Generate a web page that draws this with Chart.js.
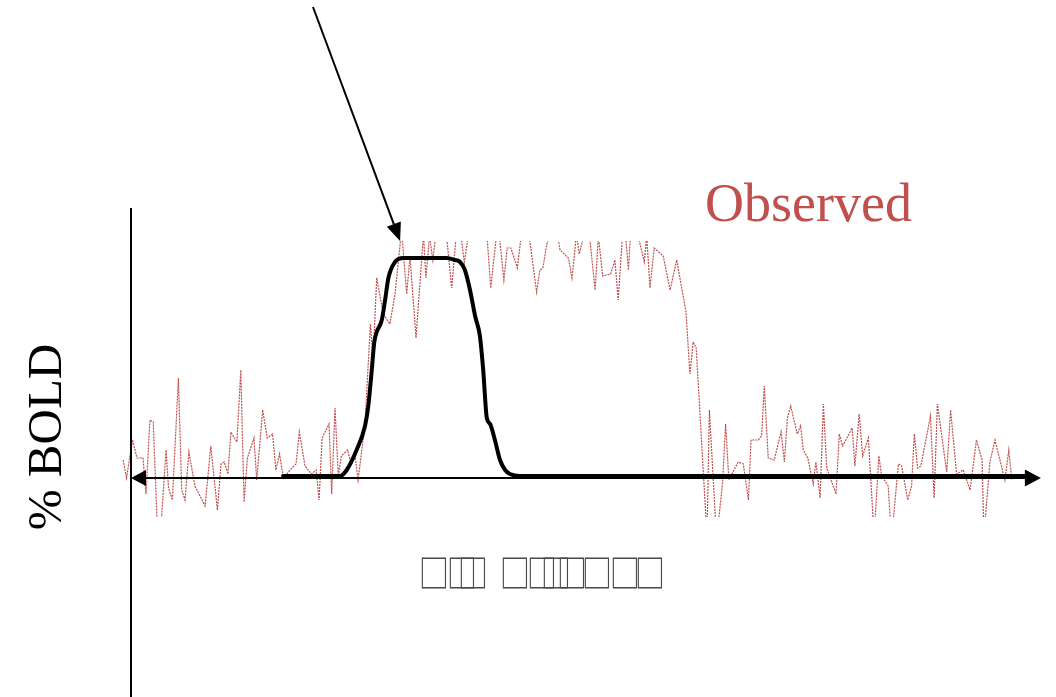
<!DOCTYPE html>
<html>
<head>
<meta charset="utf-8">
<script src="https://cdn.jsdelivr.net/npm/chart.js@4.4.1/dist/chart.umd.min.js"></script>
<style>
  html, body { margin: 0; padding: 0; background: #fff; }
  canvas { display: block; }
</style>
</head>
<body>
<canvas id="bold" width="1056" height="697"></canvas>
<script>
  "use strict";

  // observed signal (red, noisy): time (s) and % BOLD
  var observedTime = [
    -2.6, -1.5, 0.5, 2.0, 4.0, 5.0, 6.3, 7.4, 9.2, 11.7,
    12.5, 13.8, 15.8, 16.9, 18.0, 19.3, 21.3, 24.7, 26.6, 28.8,
    30.0, 31.1, 32.3, 33.3, 35.3, 36.6, 37.7, 38.8, 41.0, 41.9,
    43.9, 45.4, 47.2, 48.3, 49.5, 50.8, 53.6, 55.0, 56.1, 58.0,
    60.2, 61.7, 62.7, 63.7, 66.0, 66.9, 68.0, 69.1, 70.1, 72.2,
    73.3, 74.7, 75.7, 78.0, 79.8, 80.7, 81.9, 84.1, 86.3, 88.0,
    90.2, 91.9, 93.0, 95.0, 97.5, 98.3, 99.5, 100.6, 101.8, 104.0,
    106.9, 109.0, 111.1, 112.7, 115.7, 118.3, 119.9, 122.3, 124.3, 125.4,
    126.6, 128.8, 131.3, 135.2, 136.3, 137.3, 138.5, 141.0, 143.0, 145.8,
    147.0, 148.5, 149.4, 152.3, 154.7, 155.8, 157.2, 159.9, 161.3, 162.4,
    164.3, 165.8, 167.0, 171.1, 171.9, 173.0, 174.4, 177.4, 179.7, 181.9,
    185.0, 186.3, 187.4, 188.4, 192.0, 192.8, 195.2, 197.2, 198.2, 199.3,
    202.4, 204.1, 205.8, 206.7, 209.1, 210.2, 211.1, 212.4, 214.4, 216.7,
    217.8, 218.8, 219.9, 222.1, 223.2, 224.1, 225.6, 227.4, 228.3, 229.7,
    230.8, 231.9, 235.0, 236.1, 237.2, 240.4, 241.3, 242.7, 243.9, 245.8,
    247.7, 249.3, 250.2, 252.4, 253.5, 255.8, 256.9, 258.9, 260.2, 261.1,
    262.2, 263.3, 266.5, 267.7, 268.8, 271.9, 273.2, 275.2, 277.4, 279.7,
    281.8, 283.7, 284.3, 286.3, 288.0, 291.3, 292.6, 293.6
  ];
  var observedPct = [
    0.09, 0.00, 0.19, 0.10, 0.10, -0.08, 0.29, 0.28, -0.41, 0.14,
    -0.05, -0.11, 0.50, -0.06, -0.11, 0.13, -0.04, -0.14, 0.16, -0.16,
    0.07, 0.08, 0.02, 0.23, 0.18, 0.54, -0.12, 0.10, 0.20, -0.01,
    0.34, 0.20, 0.22, 0.04, 0.12, 0.00, 0.05, 0.07, 0.23, 0.06,
    0.02, 0.04, -0.11, 0.20, 0.27, -0.08, 0.35, 0.01, 0.11, 0.14,
    0.07, 0.11, -0.01, 0.27, 0.77, 0.60, 1.00, 0.82, 0.77, 0.92,
    1.24, 0.92, 1.11, 0.70, 1.22, 1.00, 1.21, 1.09, 1.24, 1.39,
    0.95, 1.32, 1.08, 1.24, 1.37, 1.29, 0.95, 1.28, 0.99, 1.15,
    1.15, 1.05, 1.37, 0.93, 1.04, 1.05, 1.16, 1.32, 1.14, 1.10,
    1.00, 1.22, 1.12, 1.29, 0.94, 1.21, 1.01, 1.02, 1.09, 0.89,
    1.32, 1.04, 1.34, 1.08, 1.21, 0.95, 1.15, 1.11, 0.94, 1.09,
    0.83, 0.52, 0.68, 0.65, -0.29, 0.34, -0.31, -0.02, 0.27, -0.01,
    0.08, 0.07, -0.11, 0.19, 0.19, 0.21, 0.46, 0.10, 0.09, 0.23,
    0.08, 0.30, 0.36, 0.22, 0.26, 0.14, 0.10, -0.03, 0.08, -0.10,
    0.37, 0.05, -0.08, 0.22, 0.16, 0.25, 0.06, 0.32, 0.11, 0.20,
    -0.29, 0.11, 0.01, -0.04, -0.31, 0.07, 0.06, -0.11, -0.04, 0.22,
    0.05, 0.06, 0.31, -0.10, 0.37, 0.03, 0.34, 0.02, 0.04, -0.06,
    0.19, 0.09, -0.29, 0.08, 0.19, -0.01, 0.14, -0.01
  ];

  // predicted response (black, smooth)
  var modelTime = [
    50.7, 69.7, 71.9, 75.2, 78.0, 79.1, 80.2, 81.1, 81.9, 83.6,
    84.7, 85.8, 88.0, 90.8, 105.2, 108.0, 109.7, 111.3, 113.0, 114.7,
    116.3, 117.4, 118.6, 119.7, 121.3, 123.0, 124.7, 126.3, 129.7, 299.7
  ];
  var modelPct = [
    0.01, 0.01, 0.04, 0.14, 0.26, 0.36, 0.53, 0.68, 0.73, 0.79,
    0.89, 1.00, 1.08, 1.10, 1.10, 1.09, 1.08, 1.04, 0.94, 0.81,
    0.71, 0.54, 0.30, 0.27, 0.19, 0.09, 0.04, 0.02, 0.01, 0.01
  ];

  var yLabel = "% BOLD";
  var seriesLabel = "Observed";
  // x label as it shows: missing-glyph boxes
  var xLabelGlyphs = ["□", "□", "□", "□", "□", "□", "□", "□", "□", "□"];
  var xLabelLeft = [421, 449, 460, 502, 529, 543, 559, 584, 612, 637];

  var toPoints = function(xs, ys) {
    var pts = [];
    for (var i = 0; i < xs.length; i++) pts.push({ x: xs[i], y: ys[i] });
    return pts;
  };

  var head = function(ctx, tx, ty, ang, len, half) {
    ctx.beginPath();
    ctx.moveTo(tx, ty);
    ctx.lineTo(tx - len * Math.cos(ang) + half * Math.sin(ang), ty - len * Math.sin(ang) - half * Math.cos(ang));
    ctx.lineTo(tx - len * Math.cos(ang) - half * Math.sin(ang), ty - len * Math.sin(ang) + half * Math.cos(ang));
    ctx.closePath();
    ctx.fill();
  };

  var line = function(ctx, x1, y1, x2, y2) {
    ctx.beginPath();
    ctx.moveTo(x1, y1);
    ctx.lineTo(x2, y2);
    ctx.stroke();
  };

  var decor = {
    id: "decor",
    afterDraw: function(chart) {
      var ctx = chart.ctx;
      var xs = chart.scales.x, ys = chart.scales.y;
      var x0 = xs.getPixelForValue(0), y0 = ys.getPixelForValue(0);
      var xEnd = xs.getPixelForValue(303.3);
      ctx.save();
      ctx.strokeStyle = "#000";
      ctx.fillStyle = "#000";
      ctx.lineWidth = 2;

      // axes with arrow heads
      line(ctx, x0, 208, x0, 697);
      line(ctx, x0 + 10, y0, xEnd - 10, y0);
      head(ctx, x0, y0, Math.PI, 15, 8);
      head(ctx, xEnd, y0, 0, 16, 8.5);

      // pointer to the peak
      var tipX = xs.getPixelForValue(89.7), tipY = ys.getPixelForValue(1.185);
      var ang = Math.atan2(tipY - 7, tipX - 313);
      line(ctx, 313, 7, tipX - 14 * Math.cos(ang), tipY - 14 * Math.sin(ang));
      head(ctx, tipX, tipY, ang, 18, 7.5);

      // texts
      ctx.font = '54px "Liberation Serif", serif';
      ctx.fillStyle = "#c0504d";
      ctx.textAlign = "left";
      ctx.textBaseline = "alphabetic";
      ctx.fillText(seriesLabel, 705, 221);

      ctx.save();
      ctx.translate(61, 437);
      ctx.rotate(-Math.PI / 2);
      ctx.fillStyle = "#000";
      ctx.font = '49px "Liberation Serif", serif';
      ctx.textAlign = "center";
      ctx.fillText(yLabel, 0, 0);
      ctx.restore();

      ctx.fillStyle = "#4a4a4a";
      ctx.font = '40px "Noto Sans CJK SC", "DejaVu Sans", sans-serif';
      ctx.textAlign = "left";
      for (var i = 0; i < xLabelGlyphs.length; i++) {
        var m = ctx.measureText(xLabelGlyphs[i]);
        var bw = m.actualBoundingBoxLeft + m.actualBoundingBoxRight;
        var bh = m.actualBoundingBoxAscent + m.actualBoundingBoxDescent;
        ctx.save();
        ctx.translate(xLabelLeft[i], 557);
        ctx.scale(25 / bw, 32 / bh);
        ctx.fillText(xLabelGlyphs[i], m.actualBoundingBoxLeft, m.actualBoundingBoxAscent);
        ctx.restore();
      }
      ctx.restore();
    }
  };

  new Chart(document.getElementById("bold").getContext("2d"), {
    type: "line",
    data: {
      datasets: [
        {
          label: "Predicted",
          data: toPoints(modelTime, modelPct),
          borderColor: "#000",
          borderWidth: 4,
          cubicInterpolationMode: "monotone",
          borderJoinStyle: "round",
          borderCapStyle: "round",
          pointRadius: 0,
          order: 1
        },
        {
          label: seriesLabel,
          data: toPoints(observedTime, observedPct),
          borderColor: "#c0504d",
          borderWidth: 1.2,
          borderDash: [2, 1],
          tension: 0,
          pointRadius: 0,
          clip: 0,
          order: 2
        }
      ]
    },
    options: {
      responsive: false,
      animation: false,
      devicePixelRatio: 1,
      layout: { padding: { left: 116, right: 10, top: 241, bottom: 180 } },
      plugins: { legend: { display: false }, tooltip: { enabled: false } },
      scales: {
        x: { type: "linear", display: false, min: -5, max: 305 },
        y: { display: false, min: -0.195, max: 1.185 }
      }
    },
    plugins: [decor]
  });
</script>
</body>
</html>
